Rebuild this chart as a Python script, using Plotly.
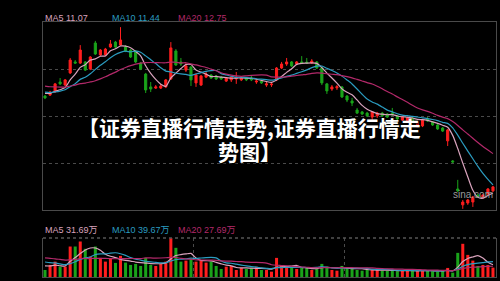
import plotly.graph_objects as go
import pandas as pd

# ---- data ----
days = list(range(90))

opens = [15.22, 15.26, 15.39, 15.82, 15.69, 16.21, 16.68, 16.63, 16.68, 16.38,
         17.49, 16.98, 16.98, 17.32, 17.53, 17.40, 17.32, 17.19, 17.15, 16.63,
         16.16, 15.61, 15.56, 15.56, 15.61, 15.95, 17.15, 16.68, 16.33, 16.46,
         15.78, 15.69, 16.03, 16.12, 16.08, 16.03, 15.86, 15.91, 15.95, 15.91,
         15.99, 15.99, 15.82, 15.86, 15.69, 15.70, 15.91, 16.42, 16.59, 16.68,
         16.59, 16.68, 16.67, 16.63, 16.68, 16.42, 15.74, 15.52, 15.57, 15.61,
         15.22, 15.01, 14.62, 14.54, 14.49, 14.32, 14.37, 14.49, 14.45, 14.49,
         14.37, 14.19, 14.15, 14.28, 13.89, 13.94, 14.24, 14.11, 13.98, 13.85,
         13.30, 12.44, 11.24, 10.56, 10.64, 10.68, 10.98, 10.86, 11.03, 11.16]

closes = [15.14, 15.39, 15.74, 15.74, 15.91, 16.76, 16.63, 17.19, 16.33, 16.89,
          17.02, 17.19, 17.23, 17.45, 17.32, 17.62, 17.15, 16.89, 16.68, 16.38,
          15.48, 15.52, 15.61, 15.65, 15.91, 17.28, 16.55, 16.59, 16.51, 15.91,
          16.12, 16.08, 16.16, 15.99, 15.95, 15.95, 15.99, 16.03, 16.03, 15.99,
          15.91, 15.91, 15.86, 15.78, 15.74, 15.73, 16.42, 16.59, 16.68, 16.51,
          16.68, 16.63, 16.64, 16.72, 16.42, 15.78, 15.44, 15.61, 15.62, 15.18,
          15.05, 14.92, 14.49, 14.45, 14.37, 14.54, 14.49, 14.37, 14.32, 14.41,
          14.24, 14.32, 14.28, 14.15, 14.11, 14.19, 14.15, 13.98, 13.81, 13.72,
          13.77, 12.40, 11.16, 10.68, 10.77, 10.90, 10.90, 10.98, 11.24, 11.33]

highs = [15.26, 15.44, 15.78, 15.99, 15.95, 16.85, 16.76, 17.40, 16.72, 16.93,
         17.58, 17.23, 17.28, 17.62, 17.58, 18.17, 17.40, 17.23, 17.19, 16.68,
         16.21, 15.82, 15.69, 15.74, 15.95, 17.53, 17.23, 16.85, 16.63, 16.51,
         16.21, 16.12, 16.25, 16.16, 16.12, 16.08, 16.03, 16.08, 16.25, 16.03,
         16.03, 16.08, 15.95, 15.91, 15.82, 15.82, 16.46, 16.68, 16.85, 16.72,
         16.72, 16.93, 16.85, 16.80, 16.72, 16.46, 15.78, 15.69, 15.69, 15.65,
         15.26, 15.14, 14.71, 14.58, 14.54, 14.58, 14.54, 14.54, 14.49, 14.71,
         14.41, 14.37, 14.32, 14.32, 14.15, 14.24, 14.32, 14.15, 14.02, 13.89,
         13.81, 12.48, 11.63, 10.77, 10.81, 10.94, 11.03, 11.03, 11.28, 11.37]

lows = [15.09, 15.22, 15.35, 15.69, 15.65, 16.16, 16.59, 16.59, 16.29, 16.33,
        16.98, 16.93, 16.93, 17.28, 17.28, 17.36, 17.10, 16.85, 16.63, 16.33,
        15.35, 15.39, 15.52, 15.52, 15.56, 15.91, 16.51, 16.51, 16.25, 15.65,
        15.61, 15.65, 15.99, 15.95, 15.91, 15.91, 15.82, 15.82, 15.74, 15.86,
        15.86, 15.86, 15.74, 15.74, 15.61, 15.61, 15.86, 16.38, 16.51, 16.46,
        16.55, 16.59, 16.59, 16.59, 16.38, 15.69, 15.31, 15.44, 15.48, 15.14,
        14.96, 14.79, 14.45, 14.41, 14.32, 14.11, 14.28, 14.32, 14.28, 14.37,
        14.19, 14.15, 14.11, 14.11, 13.85, 13.89, 14.11, 13.94, 13.77, 13.68,
        13.08, 12.35, 11.11, 10.39, 10.56, 10.47, 10.86, 10.81, 10.98, 11.11]

# volume in 万 shares
volumes = [18.3, 31.4, 40.1, 27.0, 27.0, 79.4, 79.4, 92.5, 73.4, 53.2,
           79.4, 49.8, 40.1, 47.2, 36.7, 55.0, 37.5, 31.4, 34.1, 28.8,
           49.8, 31.4, 28.8, 34.1, 40.1, 101.4, 76.0, 40.1, 42.7, 47.2,
           40.1, 44.5, 37.5, 40.1, 28.8, 21.0, 27.0, 28.8, 18.3, 23.6,
           21.0, 23.6, 27.0, 18.3, 18.3, 13.9, 49.8, 28.8, 27.0, 23.6,
           21.0, 23.6, 23.6, 18.3, 23.6, 34.1, 27.0, 18.3, 16.5, 28.8,
           23.6, 21.0, 18.3, 16.5, 18.3, 18.3, 18.3, 16.5, 16.5, 16.5,
           15.2, 16.5, 17.0, 16.5, 15.7, 17.3, 16.5, 15.2, 13.9, 16.5,
           23.6, 11.3, 62.9, 86.5, 57.6, 42.7, 28.8, 31.4, 31.4, 24.4]

# sessions before the visible window (only used to seed the moving averages)
prior_closes = [15.99, 15.91, 15.82, 15.95, 15.86, 15.91, 15.78, 15.95, 15.91, 15.99,
                15.56, 15.48, 15.39, 15.35, 15.44, 15.39, 15.31, 15.39, 15.44]
prior_volumes = [58, 62, 61, 59, 63, 60, 57, 62, 60, 64,
                 50, 47, 52, 48, 49, 33, 30, 34, 30]

price_labels = ["MA5 11.07", "MA10 11.44", "MA20 12.75"]
vol_labels = ["MA5 31.69万", "MA10 39.67万", "MA20 27.69万"]
ma_periods = [5, 10, 20]
title_lines = ["【证券直播行情走势,证券直播行情走", "势图】"]

# ---- styles ----
BG = "#000000"
UP = "#ff1e1e"
DOWN = "#1aa31a"
MA_COLORS = ["#d9a3bd", "#2b9cc0", "#b3296a"]
FRAME = "#4a4a4a"
GRID = "#4a4a4a"

n_prior = len(prior_closes)
cs = pd.Series(prior_closes + closes)
vs = pd.Series(prior_volumes + volumes)

fig = go.Figure()

fig.add_trace(go.Candlestick(
    x=days, open=opens, high=highs, low=lows, close=closes,
    increasing=dict(line=dict(color=UP, width=1), fillcolor=UP),
    decreasing=dict(line=dict(color=DOWN, width=1), fillcolor=DOWN),
    whiskerwidth=0, xaxis="x", yaxis="y", showlegend=False, hoverinfo="skip"))

for p, col in zip(ma_periods, MA_COLORS):
    ma = cs.rolling(p).mean().iloc[n_prior:].tolist()
    fig.add_trace(go.Scatter(x=days, y=ma, mode="lines",
                             line=dict(color=col, width=1.2, shape="spline", smoothing=0.6),
                             xaxis="x", yaxis="y", showlegend=False, hoverinfo="skip"))

bar_colors = [UP if c >= o else DOWN for o, c in zip(opens, closes)]
fig.add_trace(go.Bar(x=days, y=volumes, marker=dict(color=bar_colors, line=dict(width=0)),
                     width=0.6, xaxis="x2", yaxis="y2", showlegend=False, hoverinfo="skip"))

for p, col in zip(ma_periods, MA_COLORS):
    ma = vs.rolling(p).mean().iloc[n_prior:].tolist()
    fig.add_trace(go.Scatter(x=days, y=ma, mode="lines",
                             line=dict(color=col, width=1.2, shape="spline", smoothing=0.6),
                             xaxis="x2", yaxis="y2", showlegend=False, hoverinfo="skip"))

W, H = 500, 281
x0, x1 = 43 / W, 496 / W
p_top, p_bot = 1 - 22 / H, 1 - 210 / H
v_top, v_bot = 1 - 238 / H, 1 - 277 / H

y_lo, y_hi = 10.34, 18.39
q = (y_hi - y_lo) / 4

fig.update_layout(
    width=W, height=H, margin=dict(l=0, r=0, t=0, b=0),
    paper_bgcolor=BG, plot_bgcolor=BG,
    boxgap=0.4,
    xaxis=dict(domain=[x0, x1], range=[-0.4, 89.6], showgrid=False, zeroline=False,
               showticklabels=False, ticks="", rangeslider=dict(visible=False),
               showline=True, linecolor=FRAME, linewidth=1, mirror=True, anchor="y"),
    yaxis=dict(domain=[p_bot, p_top], range=[y_lo, y_hi], showticklabels=False, ticks="",
               tickvals=[y_lo + q, y_lo + 2 * q, y_lo + 3 * q], showgrid=True,
               gridcolor=GRID, griddash="dot", gridwidth=1, zeroline=False,
               showline=True, linecolor=FRAME, linewidth=1, mirror=True, anchor="x"),
    xaxis2=dict(domain=[x0, x1], range=[-0.4, 89.6], showticklabels=False, ticks="",
                tickvals=[29.5, 59.5], showgrid=True, gridcolor=GRID, griddash="dot",
                zeroline=False, showline=True, linecolor=FRAME, linewidth=1, anchor="y2"),
    yaxis2=dict(domain=[v_bot, v_top], range=[0, 101.6], showticklabels=False, ticks="",
                showgrid=False, zeroline=False, showline=True, linecolor=FRAME,
                linewidth=1, mirror=True, anchor="x2"),
    shapes=[dict(type="line", xref="paper", yref="paper", x0=x0, x1=x1, y0=v_top, y1=v_top,
                 line=dict(color="#555555", width=1.5, dash="dot"))],
)

label_x = [43 / W, 110 / W, 176 / W]
for txt, lx, col in zip(price_labels, label_x, MA_COLORS):
    fig.add_annotation(text=txt, x=lx, y=1 - 18.5 / H, xref="paper", yref="paper",
                       xanchor="left", yanchor="middle", showarrow=False,
                       font=dict(family="Liberation Sans, Arial", size=9, color=col))
for txt, lx, col in zip(vol_labels, label_x, MA_COLORS):
    fig.add_annotation(text=txt, x=lx, y=1 - 230 / H, xref="paper", yref="paper",
                       xanchor="left", yanchor="middle", showarrow=False,
                       font=dict(family="Liberation Sans, Noto Sans CJK SC", size=9, color=col))

fig.add_annotation(text="sina.com", x=473 / W, y=1 - 194 / H, xref="paper", yref="paper",
                   xanchor="center", yanchor="middle", showarrow=False,
                   font=dict(family="Liberation Sans, Arial", size=10, color="#9a9a9a"))

for txt, ty in zip(title_lines, [127, 151]):
    fig.add_annotation(text="<b>" + txt + "</b>",
                       x=249 / W, y=1 - ty / H, xref="paper", yref="paper",
                       xanchor="center", yanchor="middle", showarrow=False, align="center",
                       font=dict(family="Noto Sans CJK SC", size=21, color="#ffffff",
                                 shadow="1px 1px 2px #000000"))

fig.write_html("out.html")
